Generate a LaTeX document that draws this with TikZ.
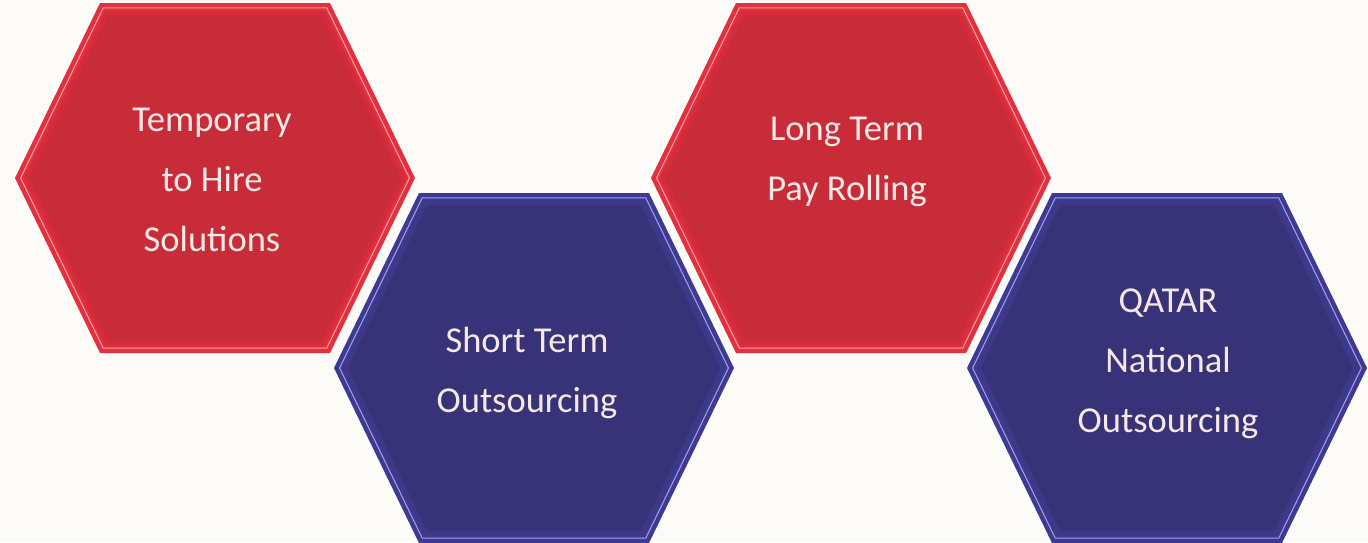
\documentclass[tikz,border=0pt]{standalone}
\usepackage{fontspec}
\setmainfont{Carlito}
\definecolor{bgc}{RGB}{253,251,248}
\definecolor{redrim}{RGB}{226,48,62}
\definecolor{redmid}{RGB}{214,44,58}
\definecolor{redmain}{RGB}{200,44,56}
\definecolor{bluerim}{RGB}{60,58,150}
\definecolor{bluemid}{RGB}{62,56,136}
\definecolor{bluemain}{RGB}{56,50,120}
\definecolor{txtc}{RGB}{246,232,230}
\tikzset{
  hexlabel/.style={text=txtc, align=center, font=\fontsize{36.5}{60}\selectfont, inner sep=0pt},
}
\newcommand{\hexshape}{(-200,0)--(-115,-175)--(115,-175)--(200,0)--(115,175)--(-115,175)--cycle}
\newcommand{\hexcell}[5]{%
  \begin{scope}[shift={(#1,#2)}]
    \fill[#3] \hexshape;
    \begin{scope}[scale=0.972]\draw[#3!45!white, line width=1pt] \hexshape;\end{scope}
    \begin{scope}[scale=0.955]\fill[#4] \hexshape;\end{scope}
    \begin{scope}[scale=0.93]\fill[#5] \hexshape;\end{scope}
  \end{scope}}
\begin{document}
\begin{tikzpicture}[x=1pt,y=-1pt]
\fill[bgc] (0,0) rectangle (1368,542);
\useasboundingbox (0,0) rectangle (1368,542);
\hexcell{215}{178}{redrim}{redmid}{redmain}
\hexcell{534}{368}{bluerim}{bluemid}{bluemain}
\hexcell{851}{178}{redrim}{redmid}{redmain}
\hexcell{1167}{368}{bluerim}{bluemid}{bluemain}
\node[hexlabel] (t1) at (212,180) {Temporary\\to Hire\\Solutions};
\node[hexlabel] (t2) at (527,373) {Short Term\\Outsourcing};
\node[hexlabel] (t3) at (847,162) {Long Term\\Pay Rolling};
\node[hexlabel] (t4) at (1168,364) {QATAR\\National\\Outsourcing};
\end{tikzpicture}
\end{document}
